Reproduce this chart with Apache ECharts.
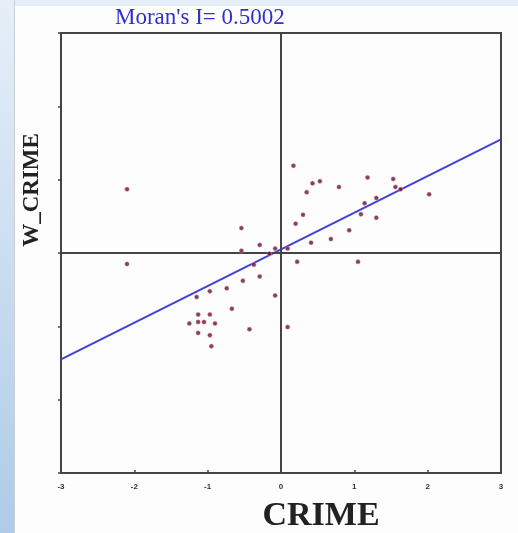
<!DOCTYPE html>
<html>
<head>
<meta charset="utf-8">
<script src="https://cdn.jsdelivr.net/npm/echarts@6/dist/echarts.min.js"></script>
<style>
  html, body { margin: 0; padding: 0; background: #fdfdfd; }
  #strip_left { position: absolute; left: 0; top: 0; width: 14px; height: 533px;
    background: linear-gradient(#e6eff8, #aecbe8); border-right: 1px solid #c9d0d6; }
  #strip_top { position: absolute; left: 0; top: 0; width: 518px; height: 6px; background: #e6eff8; }
  #main { position: absolute; left: 0; top: 0; width: 518px; height: 533px; }
</style>
</head>
<body>
<div id="strip_top"></div>
<div id="strip_left"></div>
<div id="main"></div>
<script type="text/javascript">
// CRIME vs spatial lag W_CRIME
var crime = [-2.10, -2.10, -0.54, -0.29, -0.54, -0.08, -0.16, 0.09, -0.37, -0.52,
             -0.29, -0.74, -0.97, -1.15, -0.08, -0.67, -1.13, -0.97, -1.25, -1.13,
             -1.05, -0.90, -0.43, 0.09, -1.13, -0.97, -0.95, 0.17, 0.43, 0.53,
             0.79, 0.35, 0.30, 0.20, 0.68, 0.41, 0.93, 0.22, 1.18, 1.53,
             1.56, 1.63, 2.02, 1.30, 1.14, 1.09, 1.30, 1.05];
var wCrime = [0.87, -0.15, 0.34, 0.11, 0.03, 0.06, -0.01, 0.06, -0.16, -0.38,
              -0.32, -0.48, -0.52, -0.60, -0.58, -0.76, -0.84, -0.84, -0.96, -0.94,
              -0.94, -0.96, -1.04, -1.01, -1.09, -1.12, -1.27, 1.19, 0.95, 0.98,
              0.90, 0.83, 0.52, 0.40, 0.19, 0.14, 0.31, -0.12, 1.03, 1.01,
              0.90, 0.87, 0.80, 0.75, 0.68, 0.53, 0.48, -0.12];
// regression line end points (slope = Moran's I)
var fitX = [-3, 3];
var fitY = [-1.45, 1.55];
var xTicks = [-3, -2, -1, 0, 1, 2, 3];

var points = crime.map(function (v, i) { return [v, wCrime[i]]; });
var fitLine = fitX.map(function (v, i) { return [v, fitY[i]]; });

var chart = echarts.init(document.getElementById('main'));
chart.setOption({
    animation: false,
    grid: {
        left: 61, right: 17, top: 33, bottom: 60,
        show: true, borderColor: '#444', borderWidth: 2
    },
    xAxis: {
        type: 'value', min: -3, max: 3, interval: 1,
        axisLine: { show: false, onZero: false },
        axisTick: { show: true, inside: true, length: 3, lineStyle: { color: '#444', width: 1.5 } },
        splitLine: { show: false },
        axisLabel: {
            margin: 10, fontSize: 8, fontWeight: 'bold', color: '#333',
            fontFamily: 'Liberation Sans',
            formatter: function (v) { return xTicks.indexOf(v) >= 0 ? String(v) : ''; }
        }
    },
    yAxis: {
        type: 'value', min: -3, max: 3, interval: 1,
        axisLine: { show: false, onZero: false },
        axisTick: { show: true, length: 3, lineStyle: { color: '#444', width: 1.5 } },
        splitLine: { show: false },
        axisLabel: { show: false }
    },
    graphic: [
        { type: 'text', left: 115, top: 6,
          style: { text: "Moran's I= 0.5002", fill: '#3030cc',
                   font: '23px "Liberation Serif"' } },
        { type: 'text', x: 321, y: 516,
          style: { text: 'CRIME', fill: '#222', textAlign: 'center', textVerticalAlign: 'middle',
                   font: 'bold 34px "Liberation Serif"' } },
        { type: 'text', x: 32, y: 190, rotation: Math.PI / 2,
          style: { text: 'W_CRIME', fill: '#222', textAlign: 'center', textVerticalAlign: 'middle',
                   font: 'bold 23px "Liberation Serif"' } }
    ],
    series: [
        {
            type: 'scatter',
            data: points,
            symbol: 'circle',
            symbolSize: 4.5,
            itemStyle: { color: '#6a0c30', borderColor: '#e0b3c6', borderWidth: 0.6 },
            z: 5,
            markLine: {
                silent: true,
                symbol: 'none',
                label: { show: false },
                lineStyle: { color: '#444', width: 2, type: 'solid' },
                data: [{ xAxis: 0 }, { yAxis: 0 }]
            }
        },
        {
            type: 'line',
            data: fitLine,
            showSymbol: false,
            symbol: 'none',
            lineStyle: { color: '#4040dc', width: 2 },
            z: 4
        }
    ]
});
</script>
</body>
</html>
